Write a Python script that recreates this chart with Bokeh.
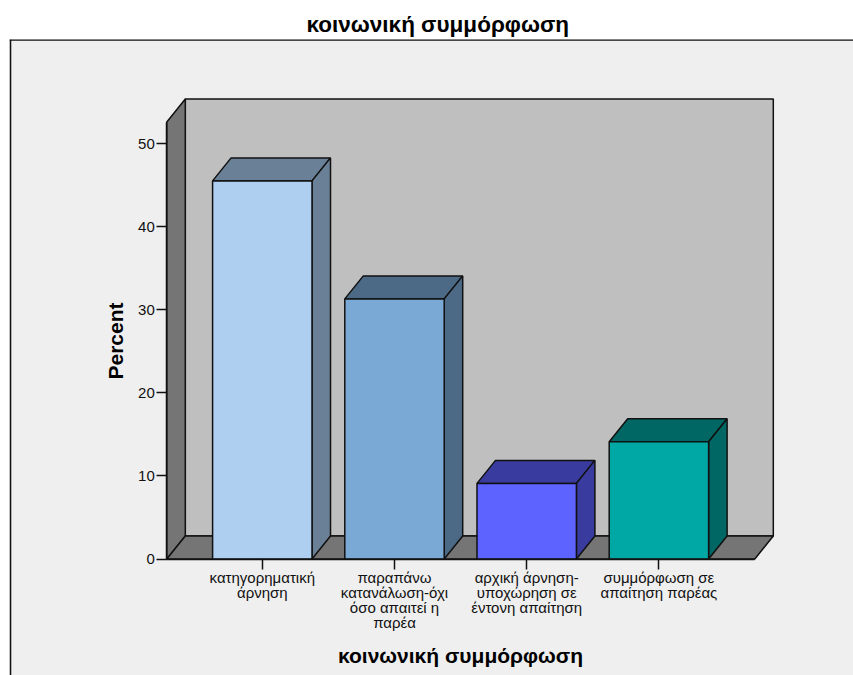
from bokeh.plotting import figure
from bokeh.models import LinearAxis, FixedTicker, Range1d
from bokeh.embed import file_html
from bokeh.resources import INLINE

title = "κοινωνική συμμόρφωση"
categories = ["κατηγορηματική\nάρνηση",
              "παραπάνω\nκατανάλωση-όχι\nόσο απαιτεί η\nπαρέα",
              "αρχική άρνηση-\nυποχώρηση σε\nέντονη απαίτηση",
              "συμμόρφωση σε\nαπαίτηση παρέας"]
values = [45.5, 31.3, 9.1, 14.1]
y_ticks = [0, 10, 20, 30, 40, 50]
front_colors = ["#aecff0", "#7ba9d6", "#5c63ff", "#00a8a5"]
top_colors = ["#6a8096", "#4c6985", "#393c9e", "#006764"]

# calibration: page pixels of the axes
PX_PER_X, X0_PX = 132.2, 261.8
PX_PER_Y, Y0_PX = 8.31, 558.5
FIG_W, FIG_H = 853, 675
FRAME_LEFT_PX, FRAME_TOP_PX = 9, 39

def xd(px): return (px - X0_PX) / PX_PER_X
def yd(px): return (Y0_PX - px) / PX_PER_Y

DX = 18.5 / PX_PER_X   # depth offset
DY = 23.0 / PX_PER_Y
BAR_W = 0.752
WALL_L, WALL_R, WALL_T = xd(166.3), xd(754.3), yd(121.5)
BLACK = "#111111"

p = figure(width=FIG_W, height=FIG_H, output_backend="svg", toolbar_location=None,
           x_axis_type=None, y_axis_type=None,
           x_range=Range1d(xd(FRAME_LEFT_PX), xd(FIG_W)),
           y_range=Range1d(yd(FIG_H), yd(FRAME_TOP_PX)),
           min_border_left=FRAME_LEFT_PX, min_border_top=FRAME_TOP_PX,
           min_border_right=0, min_border_bottom=0,
           background_fill_color="#efefef", border_fill_color="#ffffff",
           outline_line_color=None)
p.grid.visible = False

p.title.text = title
p.title.text_font = "Liberation Sans"
p.title.text_font_style = "bold"
p.title.text_font_size = "22.5px"
p.title.text_color = "#000000"
p.title.align = "left"
p.title.offset = 297
p.title.standoff = 6

# panel edges (top and left only)
p.line([xd(9.9), xd(9.9)], [yd(FIG_H), yd(FRAME_TOP_PX)], line_color=BLACK, line_width=1.8)
p.line([xd(FRAME_LEFT_PX), xd(FIG_W)], [yd(FRAME_TOP_PX), yd(FRAME_TOP_PX)], line_color=BLACK, line_width=2.4)

LW = 1.5
# back wall, side wall, floor
p.patch([WALL_L + DX, WALL_R + DX, WALL_R + DX, WALL_L + DX], [DY, DY, WALL_T + DY, WALL_T + DY],
        fill_color="#bfbfbf", line_color=BLACK, line_width=LW)
p.patch([WALL_L, WALL_L + DX, WALL_L + DX, WALL_L], [0, DY, WALL_T + DY, WALL_T],
        fill_color="#757575", line_color=BLACK, line_width=LW)
p.patch([WALL_L, WALL_R, WALL_R + DX, WALL_L + DX], [0, 0, DY, DY],
        fill_color="#757575", line_color=BLACK, line_width=LW)

# bars
for i, v in enumerate(values):
    l, r = i - BAR_W / 2, i + BAR_W / 2
    p.patch([l, l + DX, r + DX, r], [v, v + DY, v + DY, v],
            fill_color=top_colors[i], line_color=BLACK, line_width=LW)
    p.patch([r, r + DX, r + DX, r], [0, DY, v + DY, v],
            fill_color=top_colors[i], line_color=BLACK, line_width=LW)
    p.patch([l, r, r, l], [0, 0, v, v],
            fill_color=front_colors[i], line_color=BLACK, line_width=LW)

FONT = "Liberation Sans"
yaxis = LinearAxis(fixed_location=WALL_L, ticker=FixedTicker(ticks=y_ticks),
                   bounds=(0, WALL_T), axis_label="Percent")
xaxis = LinearAxis(fixed_location=0, ticker=FixedTicker(ticks=list(range(len(categories)))),
                   bounds=(WALL_L, WALL_R), axis_label=title,
                   major_label_overrides={i: c for i, c in enumerate(categories)})
for ax in (xaxis, yaxis):
    ax.major_tick_out = 10
    ax.major_tick_in = 0
    ax.minor_tick_out = 0
    ax.minor_tick_in = 0
    ax.major_tick_line_color = BLACK
    ax.major_tick_line_width = 1.5
    ax.axis_line_color = BLACK
    ax.axis_line_width = 1.5
    ax.major_label_text_font = FONT
    ax.major_label_text_font_size = "15px"
    ax.major_label_text_color = "#111111"
    ax.axis_label_text_font = FONT
    ax.axis_label_text_font_style = "bold"
    ax.axis_label_text_font_size = "21px"
    ax.axis_label_text_color = "#000000"
xaxis.major_label_text_line_height = 0.875
xaxis.major_label_standoff = 0
yaxis.major_label_standoff = 2
xaxis.axis_label_standoff = 10
yaxis.axis_label_standoff = 8
p.add_layout(yaxis, "left")
p.add_layout(xaxis, "below")

open("out.html", "w").write(file_html(p, INLINE))
